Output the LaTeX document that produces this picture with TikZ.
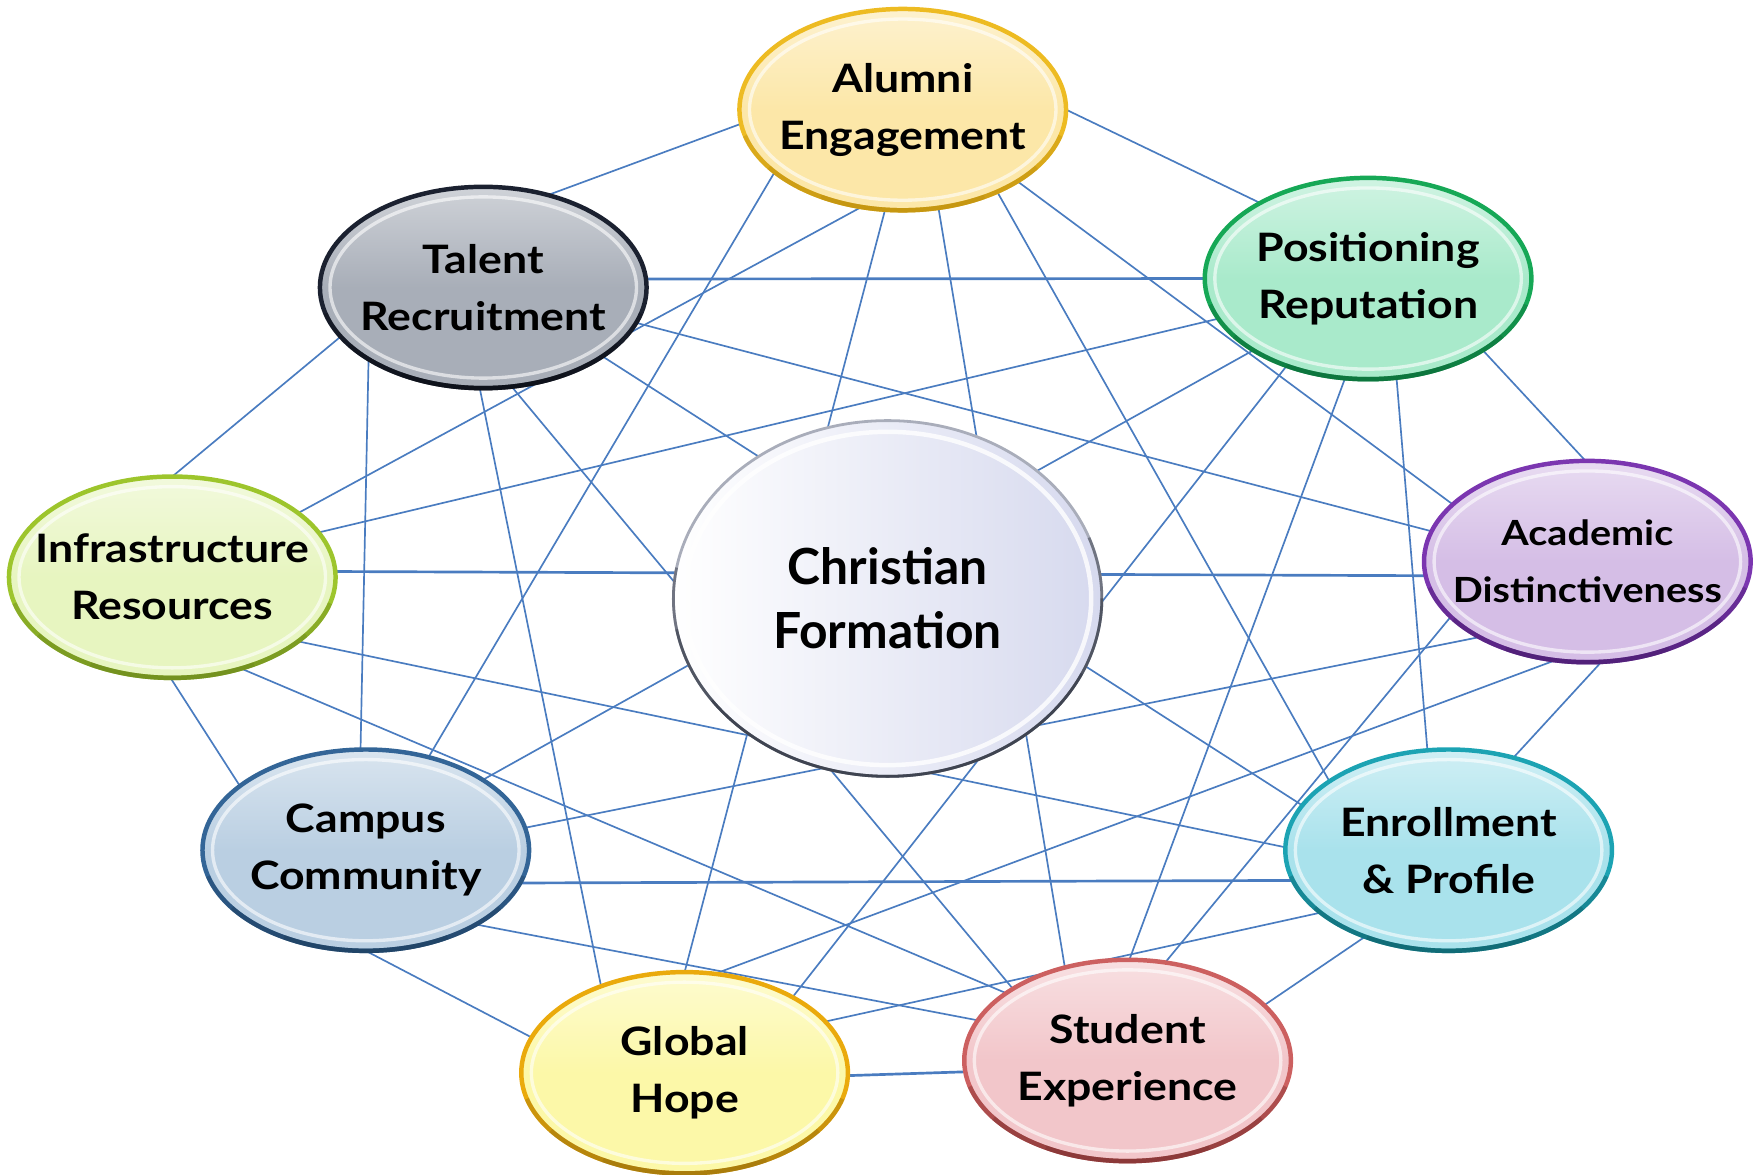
\documentclass[tikz,border=0pt]{standalone}
\usepackage{fontspec}
\setmainfont{Lato}
\newfontfamily\widelato{Lato}[FakeStretch=1.14]
\usetikzlibrary{calc,shapes.geometric}

\pgfdeclarelayer{links}
\pgfsetlayers{links,main}

\definecolor{linkblue}{HTML}{4A7CC0}
% fill / rim / shadowed rim of each bubble
\definecolor{alumFill}{HTML}{FCE7A8}\definecolor{alumRim}{HTML}{EDBB22}\definecolor{alumDark}{HTML}{B88A0C}
\definecolor{talFill}{HTML}{A8AEB8}\definecolor{talRim}{HTML}{1B2130}\definecolor{talDark}{HTML}{0A0D14}
\definecolor{posFill}{HTML}{A9EACB}\definecolor{posRim}{HTML}{16A856}\definecolor{posDark}{HTML}{0C6436}
\definecolor{infFill}{HTML}{E7F5C0}\definecolor{infRim}{HTML}{9DC52C}\definecolor{infDark}{HTML}{66801C}
\definecolor{acaFill}{HTML}{D5BEE6}\definecolor{acaRim}{HTML}{7B36B0}\definecolor{acaDark}{HTML}{441A66}
\definecolor{camFill}{HTML}{BACFE2}\definecolor{camRim}{HTML}{336597}\definecolor{camDark}{HTML}{1C3A58}
\definecolor{enrFill}{HTML}{A9E2EC}\definecolor{enrRim}{HTML}{1CA3B3}\definecolor{enrDark}{HTML}{0E5862}
\definecolor{gloFill}{HTML}{FCF8A8}\definecolor{gloRim}{HTML}{EAAA0C}\definecolor{gloDark}{HTML}{946D0C}
\definecolor{stuFill}{HTML}{F2C6CA}\definecolor{stuRim}{HTML}{CC6060}\definecolor{stuDark}{HTML}{752C2C}
\definecolor{coreLav}{HTML}{D6D9EE}\definecolor{coreRim}{HTML}{A9ADBA}\definecolor{coreDark}{HTML}{2B303D}

\newcommand\bubblefont{\widelato\bfseries\fontsize{35}{51}\selectfont}
\newcommand\smallbubblefont{\widelato\bfseries\fontsize{31}{46}\selectfont}
\newcommand\corefont{\bfseries\fontsize{44.5}{57}\selectfont}

\tikzset{
  x=1pt, y=-1pt,
  link/.style={draw=linkblue, line width=1.5pt},
  hlink/.style={draw=linkblue, line width=2.4pt},
  % the negative inner separation keeps the ellipse at its minimum size
  bubble/.style 2 args={ellipse, minimum width=292pt, minimum height=180pt,
    inner xsep=-70pt, inner ysep=-35pt, outer sep=0pt, align=center,
    font=\bubblefont, text=black,
    top color=#1!55!white, bottom color=#1, middle color=#1,
    draw=#2, line width=4pt,
    path picture={
      \draw[white, opacity=.6, line width=3pt]
        (path picture bounding box.center) ellipse[x radius=137pt, y radius=81pt];
    }},
  core/.style={ellipse, minimum width=383pt, minimum height=318pt,
    inner xsep=-40pt, inner ysep=-30pt, outer sep=0pt, align=center,
    font=\corefont, text=black,
    left color=white, right color=coreLav, draw=coreRim, line width=2.5pt,
    path picture={
      \draw[white, opacity=.8, line width=4pt]
        (path picture bounding box.center) ellipse[x radius=182pt, y radius=149pt];
    }},
}

% bubble node with a darker lower rim
\newcommand\ringnode[6]{%
  \node[bubble={#3}{#4}] (#1) at (#2) {#6};
  \foreach \a/\b in {195/345,215/325,240/300}
    \draw[#5, line width=4pt, opacity=.35]
      ($(#1.center)+(\a:146pt and 90pt)$) arc[start angle=\a, end angle=\b, x radius=146pt, y radius=90pt];
}

\begin{document}
\begin{tikzpicture}
\useasboundingbox (0,0) rectangle (1568,1050);

% outer ring of themes
\ringnode{A}{807,98}{alumFill}{alumRim}{alumDark}{Alumni\\Engagement}
\ringnode{T}{432,257}{talFill}{talRim}{talDark}{Talent\\Recruitment}
\ringnode{P}{1223,249}{posFill}{posRim}{posDark}{Positioning\\Reputation}
\ringnode{I}{154,516}{infFill}{infRim}{infDark}{Infrastructure\\Resources}
\ringnode{D}{1419,502}{acaFill}{acaRim}{acaDark}{\smallbubblefont Academic\\\smallbubblefont Distinctiveness}
\ringnode{K}{327,760}{camFill}{camRim}{camDark}{Campus\\Community}
\ringnode{E}{1295,760}{enrFill}{enrRim}{enrDark}{Enrollment\\\& Profile}
\ringnode{G}{612,959}{gloFill}{gloRim}{gloDark}{Global\\Hope}
\ringnode{S}{1008,948}{stuFill}{stuRim}{stuDark}{Student\\Experience}

% central theme
\node[core] (C) at (793.5,535) {Christian\\Formation};
\foreach \a/\b in {170/380,190/360,215/335}
  \draw[coreDark, line width=2.5pt, opacity=.45]
    ($(C.center)+(\a:191.5pt and 159pt)$) arc[start angle=\a, end angle=\b, x radius=191.5pt, y radius=159pt];

% every pair of outer themes is linked (except Infrastructure--Global Hope)
\begin{pgfonlayer}{links}
  \draw[link] (A.185.4) -- (T.55);
  \draw[link] (A.0.5)   -- (P.145.5);
  \draw[link] (A.206)   -- (K.56.6);
  \draw[link] (A.247.4) -- (I.27.6);
  \draw[link] (A.260.3) -- (G.90);
  \draw[link] (A.290.4) -- (S.124.7);
  \draw[link] (A.319.8) -- (E.150.8);
  \draw[link] (A.328.6) -- (D.157.6);
  \draw[hlink] (T.3.3)  -- (P.180);
  \draw[link] (T.199.1) -- (I.90);
  \draw[link] (T.212.4) -- (K.93.4);
  \draw[link] (T.268.1) -- (G.134.4);
  \draw[link] (T.286.3) -- (S.148);
  \draw[link] (T.330.3) -- (E.163.7);
  \draw[link] (T.347.5) -- (D.169.5);
  \draw[link] (P.195.5) -- (I.17.1);
  \draw[link] (P.328.6) -- (D.91.2);
  \draw[link] (P.212.9) -- (K.31.5);
  \draw[link] (P.227.5) -- (G.35.1);
  \draw[link] (P.257.8) -- (S.89.4);
  \draw[link] (P.286.1) -- (E.102.5);
  \draw[hlink] (I.2.5)  -- (D.185.1);
  \draw[link] (D.215.5) -- (K.8.6);
  \draw[link] (D.252.7) -- (G.73.4);
  \draw[link] (D.202.7) -- (S.69.8);
  \draw[link] (D.278.4) -- (E.55.6);
  \draw[hlink] (K.348.6) -- (E.191.3);
  \draw[link] (E.179.9) -- (I.333.5);
  \draw[link] (E.226)   -- (S.22.5);
  \draw[link] (E.206.5) -- (G.20.5);
  \draw[link] (S.165.6) -- (K.326);
  \draw[hlink] (S.184.5) -- (G.359.6);
  \draw[link] (S.151.6) -- (I.307.9);
  \draw[link] (G.167.8) -- (K.270.6);
  \draw[link] (I.269.8) -- (K.153.1);
\end{pgfonlayer}
\end{tikzpicture}
\end{document}
